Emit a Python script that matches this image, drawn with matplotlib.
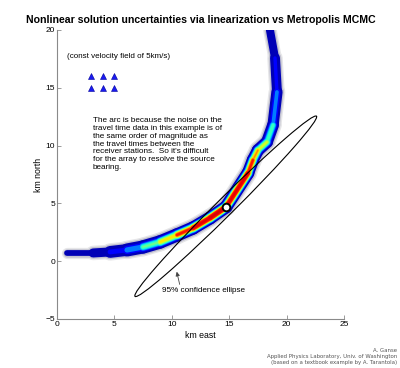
import numpy as np
import matplotlib
matplotlib.use("Agg")
import matplotlib.pyplot as plt
from matplotlib.collections import LineCollection
from matplotlib.patches import Ellipse

# ---- data ----
# MCMC arc: centerline (km east, km north), relative peak density, spread (km)
arc_x = [18.55, 18.99, 19.16, 18.82, 18.29, 17.50, 17.07, 16.64, 14.72, 13.33,
         11.85, 10.45, 8.97, 7.49, 6.10, 4.62, 3.14, 0.87]
arc_y = [20.0, 17.58, 14.64, 11.78, 10.31, 9.60, 8.76, 7.63, 4.69, 3.74,
         2.87, 2.27, 1.66, 1.23, 0.97, 0.80, 0.71, 0.71]
arc_peak = [0.04, 0.06, 0.10, 0.19, 0.32, 0.45, 0.58, 0.75, 1.00, 0.98,
            0.78, 0.55, 0.34, 0.21, 0.12, 0.055, 0.03, 0.021]
arc_sigma = [0.24, 0.25, 0.25, 0.23, 0.22, 0.21, 0.20, 0.20, 0.20, 0.20,
             0.21, 0.22, 0.24, 0.26, 0.28, 0.30, 0.30, 0.30]

# true source location / linearized solution
src_x, src_y = 14.72, 4.72
# 95% confidence ellipse
ell_cx, ell_cy = 14.7, 4.75
ell_semi_major, ell_semi_minor, ell_angle = 11.1, 0.75, 44.6

# receiver stations
sta_x = [3, 4, 5, 3, 4, 5]
sta_y = [16, 16, 16, 15, 15, 15]

x_ticks = [0, 5, 10, 15, 20, 25]
y_ticks = [-5, 0, 5, 10, 15, 20]

title = "Nonlinear solution uncertainties via linearization vs Metropolis MCMC"
note1 = "(const velocity field of 5km/s)"
note2 = ("The arc is because the noise on the\n"
         "travel time data in this example is of\n"
         "the same order of magnitude as\n"
         "the travel times between the\n"
         "receiver stations.  So it's difficult\n"
         "for the array to resolve the source\n"
         "bearing.")
footer = ("A. Ganse\n"
          "Applied Physics Laboratory, Univ. of Washington\n"
          "(based on a textbook example by A. Tarantola)")

# ---- figure ----
plt.rcParams['font.family'] = ['Liberation Sans', 'DejaVu Sans']
fig = plt.figure(figsize=(4.0, 3.68), dpi=100)
ax = fig.add_axes([0.1425, 0.1332, 0.7175, 0.7853])
ax.set_xlim(0, 25)
ax.set_ylim(-5, 20)

# density band of the MCMC samples as stacked layers
pts = np.column_stack([arc_x, arc_y])
segs = np.array([pts[i:i + 2] for i in range(len(pts) - 1)])
pk = np.array(arc_peak)
sg = np.array(arc_sigma)
seg_pk = (pk[:-1] + pk[1:]) / 2
seg_sg = (sg[:-1] + sg[1:]) / 2
km2pt = 11.5 * 72 / 100.0
jet = plt.get_cmap('jet')
t0 = 0.018


def half_width(t):
    ok = seg_pk > t
    r = np.zeros_like(seg_pk)
    r[ok] = seg_sg[ok] * np.sqrt(2 * np.log(seg_pk[ok] / t))
    return ok, r


ok0, r0 = half_width(t0)
# grey halo of sparse samples around the band
for extra, col in [(0.24, (0.90, 0.90, 0.91)), (0.12, (0.76, 0.76, 0.82))]:
    ax.add_collection(LineCollection(segs, linewidths=2 * (r0 + extra) * km2pt,
                                     colors=[col], capstyle='round', zorder=2))
for t in np.linspace(t0, 0.95, 20):
    c = np.interp(t, [0.018, 0.06, 0.15, 0.35, 0.6, 1.0], [0.05, 0.11, 0.33, 0.6, 0.88, 0.93])
    ok, r = half_width(t)
    if not ok.any():
        continue
    ax.add_collection(LineCollection(segs[ok], linewidths=2 * r[ok] * km2pt,
                                     colors=[jet(c)], capstyle='round', zorder=2))

# ellipse
ax.add_patch(Ellipse((ell_cx, ell_cy), 2 * ell_semi_major, 2 * ell_semi_minor,
                     angle=ell_angle, fill=False, edgecolor='black', lw=0.8, zorder=4))
ax.plot([src_x], [src_y], 'o', ms=5.5, mfc='white', mec='black', mew=1.4, zorder=5)

# stations
ax.plot(sta_x, sta_y, '^', ms=4.5, mfc=(0.1, 0.1, 0.95), mec=(0, 0, 0.6), mew=0.4,
        ls='none', zorder=5)

ax.text(0.87, 17.75, note1, fontsize=5.8, va='center', ha='left')
ax.text(3.1, 12.45, note2, fontsize=5.9, va='top', ha='left', linespacing=1.15)
ax.annotate("95% confidence ellipse", xy=(10.43, -0.91), xytext=(9.15, -2.55),
            fontsize=5.9, va='center', ha='left',
            arrowprops=dict(arrowstyle='-|>', color='#444444', lw=0.6,
                            mutation_scale=6, shrinkA=0, shrinkB=0,
                            relpos=(0.22, 1.0)))

ax.set_title(title, fontsize=7.6, fontweight='bold', pad=5)
ax.set_xlabel("km east", fontsize=6.3, labelpad=2)
ax.set_ylabel("km north", fontsize=6.3, labelpad=2)
ax.set_xticks(x_ticks)
ax.set_yticks(y_ticks)
for s in ['top', 'right']:
    ax.spines[s].set_visible(False)
for s in ['left', 'bottom']:
    ax.spines[s].set_color('#8a8a8a')
    ax.spines[s].set_linewidth(0.8)
ax.tick_params(direction='in', length=3, width=0.6, color='#8a8a8a',
               labelsize=6, pad=1.5)

fig.text(0.9925, 0.0543, footer, fontsize=3.9, ha='right', va='top',
         color='#555555', family='DejaVu Sans', linespacing=1.25)

fig.savefig("out.png", dpi=100)
